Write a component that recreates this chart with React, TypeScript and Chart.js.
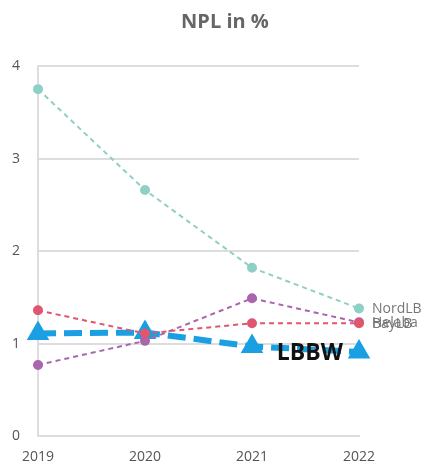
import React, { useEffect, useRef } from "react";
import { Chart, registerables } from "chart.js";

Chart.register(...registerables);

const years = ["2019", "2020", "2021", "2022"];
const nordLB = [3.75, 2.66, 1.82, 1.38];
const bayLB = [1.36, 1.11, 1.22, 1.22];
const helaba = [0.77, 1.03, 1.49, 1.23];
const lbbw = [1.11, 1.12, 0.97, 0.91];
const yTicks = [0, 1, 2, 3, 4];
const titleText = "NPL in %";

const FONT = "'Open Sans', 'Noto Sans', sans-serif";

const endLabels = {
  id: "endLabels",
  afterDatasetsDraw(chart: any) {
    const ctx = chart.ctx;
    chart.data.datasets.forEach((ds: any, i: number) => {
      const meta = chart.getDatasetMeta(i);
      const pt = meta.data[meta.data.length - 1];
      if (!pt) return;
      ctx.save();
      ctx.textBaseline = "middle";
      if (ds.label === "LBBW") {
        ctx.font = `bold 23px ${FONT}`;
        ctx.fillStyle = "#111";
        ctx.textAlign = "right";
        ctx.fillText(ds.label, pt.x - 16, pt.y + 1);
      } else {
        ctx.font = `14px ${FONT}`;
        ctx.fillStyle = "#777";
        ctx.textAlign = "left";
        ctx.fillText(ds.label, pt.x + 13, pt.y + 1);
      }
      ctx.restore();
    });
  },
  afterDraw(chart: any) {
    const ctx = chart.ctx;
    ctx.save();
    ctx.font = `bold 20px ${FONT}`;
    ctx.fillStyle = "#666";
    ctx.textAlign = "center";
    ctx.textBaseline = "middle";
    ctx.fillText(titleText, 225, 22);
    ctx.restore();
  },
};

export default function App() {
  const ref = useRef<HTMLCanvasElement | null>(null);
  useEffect(() => {
    if (!ref.current) return;
    const thin = (label: string, data: number[], color: string) => ({
      label,
      data,
      borderColor: color,
      backgroundColor: color,
      borderWidth: 2,
      borderDash: [5, 4],
      pointRadius: 4,
      pointHoverRadius: 4,
      pointStyle: "circle",
      tension: 0,
    });
    const chart = new Chart(ref.current, {
      type: "line",
      data: {
        labels: years,
        datasets: [
          thin("NordLB", nordLB, "#8fd0c5"),
          thin("BayLB", bayLB, "#e0566f"),
          thin("Helaba", helaba, "#a965ae"),
          {
            label: "LBBW",
            data: lbbw,
            borderColor: "#1a9fe2",
            backgroundColor: "#1a9fe2",
            borderWidth: 6,
            borderDash: [18, 8],
            pointRadius: 7,
            pointHoverRadius: 7,
            pointStyle: "triangle",
            tension: 0,
          },
        ],
      },
      options: {
        animation: false,
        responsive: false,
        maintainAspectRatio: false,
        layout: { padding: { left: -6, right: 72, top: 66, bottom: -11 } },
        plugins: {
          legend: { display: false },
          tooltip: { enabled: false },
          title: { display: false },
        },
        scales: {
          x: {
            offset: false,
            grid: { display: false, drawTicks: false },
            border: { display: true, color: "#ddd", width: 2 },
            ticks: {
              color: "#555",
              font: { family: FONT, size: 14 },
              padding: 12,
              maxRotation: 0,
            },
          },
          y: {
            min: yTicks[0],
            max: yTicks[yTicks.length - 1],
            ticks: {
              stepSize: 1,
              color: "#555",
              font: { family: FONT, size: 14 },
              padding: 18,
            },
            grid: { color: "#ddd", lineWidth: 2, drawTicks: false },
            border: { display: true, color: "#ddd", width: 2 },
          },
        },
      },
      plugins: [endLabels],
    });
    return () => chart.destroy();
  }, []);
  return (
    <div style={{ position: "fixed", left: 0, top: 0, width: 431, height: 466, background: "#fff" }}>
      <canvas ref={ref} width={431} height={466} style={{ width: 431, height: 466 }} />
    </div>
  );
}
